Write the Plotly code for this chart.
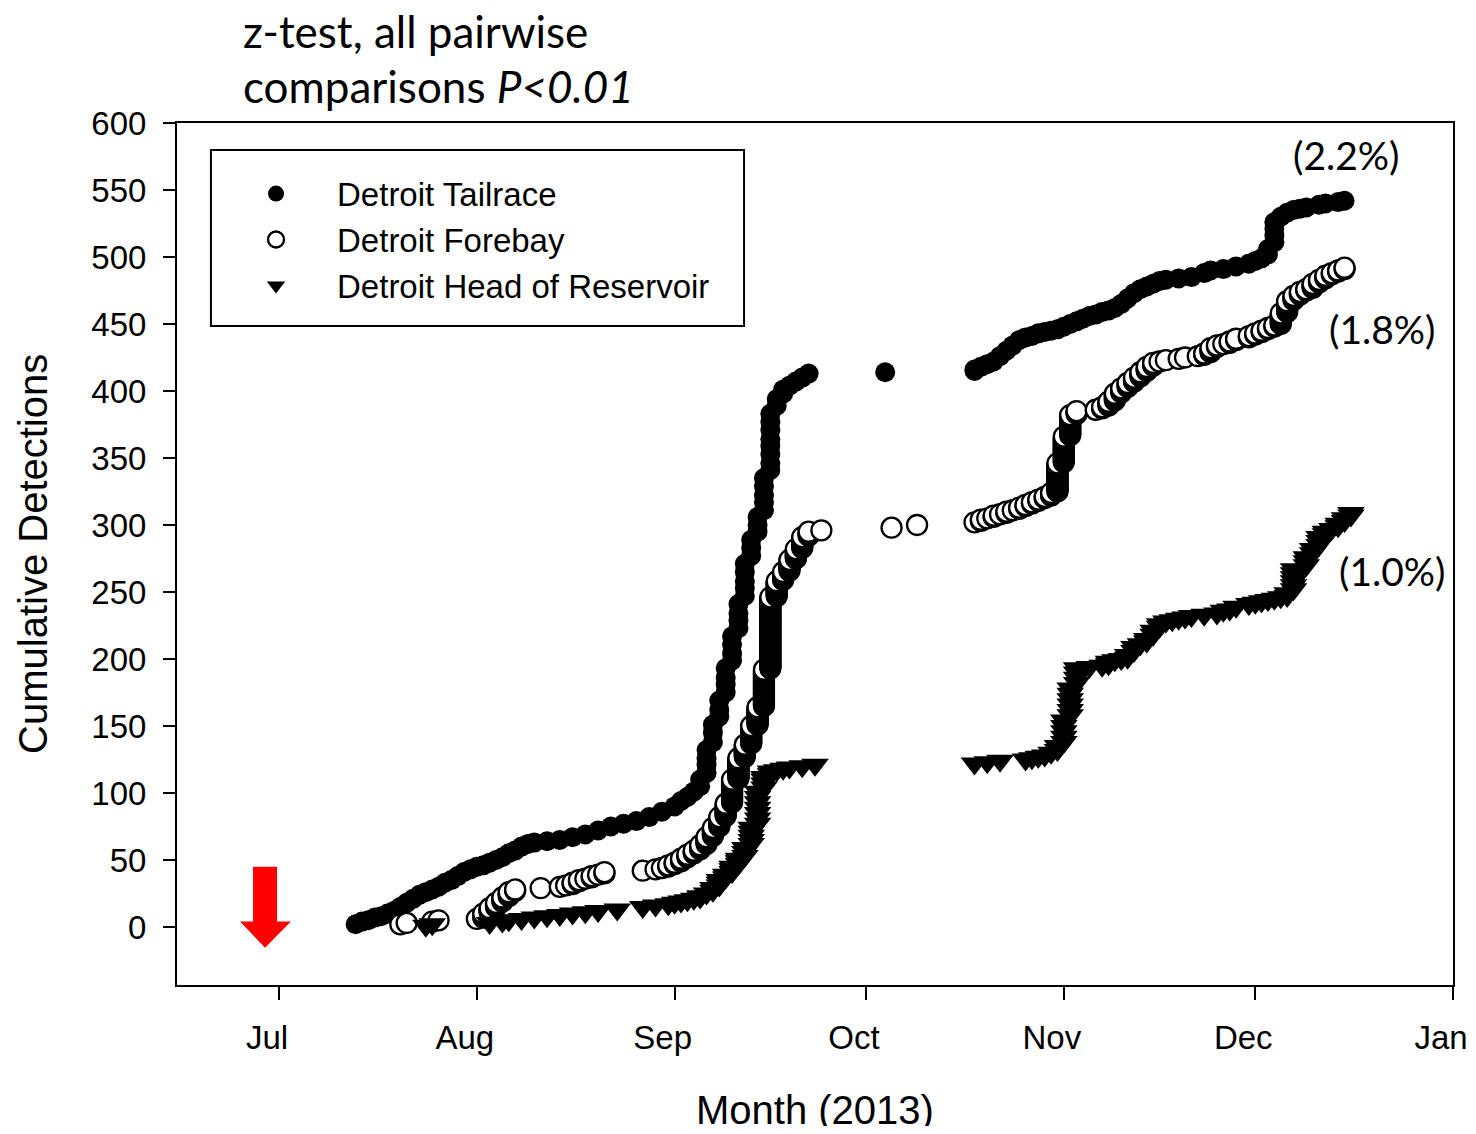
import plotly.graph_objects as go

# ---------------- data ----------------
series_names = ["Detroit Tailrace", "Detroit Forebay", "Detroit Head of Reservoir"]

tail_dates = ["2013-07-13", "2013-07-14", "2013-07-15", "2013-07-16", "2013-07-17", "2013-07-18", "2013-07-19",
              "2013-07-20", "2013-07-21", "2013-07-22", "2013-07-23", "2013-07-24", "2013-07-25", "2013-07-26",
              "2013-07-27", "2013-07-28", "2013-07-29", "2013-07-30", "2013-07-31", "2013-08-01", "2013-08-02",
              "2013-08-03", "2013-08-04", "2013-08-05", "2013-08-06", "2013-08-07", "2013-08-08", "2013-08-09",
              "2013-08-10", "2013-08-12", "2013-08-14", "2013-08-16", "2013-08-18", "2013-08-20", "2013-08-22",
              "2013-08-24", "2013-08-26", "2013-08-28", "2013-08-30", "2013-09-01", "2013-09-02", "2013-09-03",
              "2013-09-04", "2013-09-05", "2013-09-06", "2013-09-07", "2013-09-08", "2013-09-09", "2013-09-10",
              "2013-09-11", "2013-09-12", "2013-09-13", "2013-09-14", "2013-09-15", "2013-09-16", "2013-09-17",
              "2013-09-18", "2013-09-19", "2013-09-20", "2013-09-21", "2013-09-22", "2013-10-04", "2013-10-18",
              "2013-10-19", "2013-10-20", "2013-10-21", "2013-10-22", "2013-10-23", "2013-10-24", "2013-10-25",
              "2013-10-26", "2013-10-27", "2013-10-28", "2013-10-29", "2013-10-30", "2013-10-31", "2013-11-01",
              "2013-11-02", "2013-11-03", "2013-11-04", "2013-11-05", "2013-11-06", "2013-11-07", "2013-11-08",
              "2013-11-09", "2013-11-10", "2013-11-11", "2013-11-12", "2013-11-13", "2013-11-14", "2013-11-15",
              "2013-11-16", "2013-11-17", "2013-11-19", "2013-11-21", "2013-11-23", "2013-11-24", "2013-11-26",
              "2013-11-28", "2013-11-30", "2013-12-01", "2013-12-02", "2013-12-03", "2013-12-04", "2013-12-05",
              "2013-12-06", "2013-12-07", "2013-12-08", "2013-12-09", "2013-12-11", "2013-12-12", "2013-12-14",
              "2013-12-15"]
tail_cum = [[2], [4], [5], [7], [8], [10], [12],
            [15], [18], [21], [24], [26], [28], [30],
            [33], [35], [38], [41], [43], [45], [46],
            [48], [50], [52], [55], [57], [60], [62],
            [63], [64], [65], [67], [69], [72], [75],
            [77], [79], [82], [86], [90], [94], [97],
            [101], [105, 110], [115, 121, 126, 132], [138, 145, 151], [157, 162, 169], [175, 181, 186, 193],
            [199, 204, 211, 217], [223, 229, 234, 241], [247, 253, 258, 265, 271], [277, 283, 289],
            [295, 300, 306], [311, 317, 322, 329, 335], [341, 346, 353, 359, 364, 371, 377, 383], [389, 394],
            [398, 401], [404], [407], [410], [413], [414], [415, 416],
            [418], [420], [422], [426], [430], [434], [438],
            [440], [441], [443], [444], [445], [446], [448],
            [450], [452], [454], [456], [457], [459], [460],
            [462], [465], [469], [473], [476], [478], [480],
            [482], [483], [484], [485], [488], [490], [491],
            [493], [495], [497], [499], [502, 506], [511, 516, 521, 526], [530],
            [533], [535], [536], [537], [539], [540], [541],
            [542]]

fore_dates = ["2013-07-20", "2013-07-21", "2013-07-25", "2013-07-26", "2013-08-01", "2013-08-02", "2013-08-03",
              "2013-08-04", "2013-08-05", "2013-08-06", "2013-08-07", "2013-08-11", "2013-08-14", "2013-08-15",
              "2013-08-16", "2013-08-17", "2013-08-18", "2013-08-19", "2013-08-20", "2013-08-21", "2013-08-27",
              "2013-08-29", "2013-08-30", "2013-08-31", "2013-09-01", "2013-09-02", "2013-09-03", "2013-09-04",
              "2013-09-05", "2013-09-06", "2013-09-07", "2013-09-08", "2013-09-09", "2013-09-10", "2013-09-11",
              "2013-09-12", "2013-09-13", "2013-09-14", "2013-09-15", "2013-09-16", "2013-09-17", "2013-09-18",
              "2013-09-19", "2013-09-20", "2013-09-21", "2013-09-22", "2013-09-24", "2013-10-05", "2013-10-09",
              "2013-10-18", "2013-10-19", "2013-10-20", "2013-10-21", "2013-10-22", "2013-10-23", "2013-10-24",
              "2013-10-25", "2013-10-26", "2013-10-27", "2013-10-28", "2013-10-29", "2013-10-30", "2013-10-31",
              "2013-11-01", "2013-11-02", "2013-11-03", "2013-11-06", "2013-11-07", "2013-11-08", "2013-11-09",
              "2013-11-10", "2013-11-11", "2013-11-12", "2013-11-13", "2013-11-14", "2013-11-15", "2013-11-16",
              "2013-11-17", "2013-11-19", "2013-11-20", "2013-11-22", "2013-11-23", "2013-11-24", "2013-11-25",
              "2013-11-26", "2013-11-27", "2013-11-28", "2013-11-30", "2013-12-01", "2013-12-02", "2013-12-03",
              "2013-12-04", "2013-12-05", "2013-12-06", "2013-12-07", "2013-12-08", "2013-12-09", "2013-12-10",
              "2013-12-11", "2013-12-12", "2013-12-13", "2013-12-14", "2013-12-15"]
fore_cum = [[2], [3], [4], [5], [6], [7, 8, 9, 10], [11, 12, 13, 14],
            [15, 16, 17, 18], [19, 20, 21, 22], [23, 24, 25, 26], [27, 28], [29], [30], [31],
            [32, 33], [34, 35], [36], [37, 38], [39], [40, 41], [42],
            [43], [44], [45, 46], [47, 48], [49, 50, 51], [52, 53, 54], [55, 56, 57],
            [58, 59, 60, 61], [62, 63, 64, 65, 66, 67], [68, 69, 70, 71, 72, 73, 74],
            [75, 76, 77, 78, 79, 80, 81, 82],
            [83, 84, 85, 86, 87, 88, 89, 90, 91, 92],
            [93, 94, 95, 96, 97, 98, 99, 100, 101, 102, 103, 104, 105, 106, 107, 108, 109, 110],
            [111, 112, 113, 114, 115, 116, 117, 118, 119, 120, 121, 122, 123, 124, 125, 126],
            [127, 128, 129, 130, 131, 132, 133, 134, 135, 136],
            [137, 138, 139, 140, 141, 142, 143, 144, 145, 146, 147, 148, 149, 150],
            [151, 152, 153, 154, 155, 156, 157, 158, 159, 160, 161, 162, 163, 164],
            [165, 166, 167, 168, 169, 170, 171, 172, 173, 174, 175, 176, 177, 178, 179, 180, 181, 182, 183, 184,
             185, 186, 187, 188, 189, 190, 191, 192],
            [193, 194, 195, 196, 197, 198, 199, 200, 201, 202, 203, 204, 205, 206, 207, 208, 209, 210, 211, 212,
             213, 214, 215, 216, 217, 218, 219, 220, 221, 222, 223, 224, 225, 226, 227, 228, 229, 230, 231, 232,
             233, 234, 235, 236, 237, 238, 239, 240, 241, 242, 243, 244, 245, 246],
            [247, 248, 249, 250, 251, 252, 253, 254, 255, 256, 257, 258],
            [259, 260, 261, 262, 263, 264, 265],
            [266, 267, 268, 269, 270, 271, 272, 273, 274],
            [275, 276, 277, 278, 279, 280, 281, 282],
            [283, 284, 285, 286, 287, 288, 289, 290, 291],
            [292, 293, 294, 295], [296], [298], [300],
            [302], [303, 304], [305], [306, 307], [308], [309, 310], [311],
            [312, 313], [314, 315], [316, 317], [318, 319], [320, 321], [322, 323, 324],
            [325, 326, 327, 328, 329, 330, 331, 332, 333, 334, 335, 336, 337, 338, 339, 340, 341, 342, 343, 344,
             345, 346],
            [347, 348, 349, 350, 351, 352, 353, 354, 355, 356, 357, 358, 359, 360, 361, 362, 363, 364, 365, 366],
            [367, 368, 369, 370, 371, 372, 373, 374, 375, 376, 377, 378, 379, 380, 381, 382],
            [383, 384, 385],
            [386], [387, 388], [389, 390, 391, 392], [393, 394, 395, 396, 397, 398],
            [399, 400, 401, 402], [403, 404, 405, 406], [407, 408, 409, 410], [411, 412, 413, 414],
            [415, 416, 417, 418], [419, 420, 421], [422],
            [423], [424], [425], [426], [427, 428], [429, 430, 431, 432], [433, 434],
            [435], [436, 437], [438, 439], [440, 441], [442, 443], [444, 445], [446, 447],
            [448, 449], [450, 451, 452, 453, 454, 455, 456, 457, 458],
            [459, 460, 461, 462, 463, 464, 465, 466, 467], [468, 469, 470, 471], [472, 473, 474], [475, 476],
            [477, 478, 479, 480],
            [481, 482, 483], [484, 485, 486], [487, 488], [489, 490], [491, 492]]

head_dates = ["2013-07-24", "2013-07-25", "2013-08-03", "2013-08-05", "2013-08-06", "2013-08-08", "2013-08-10",
              "2013-08-12", "2013-08-14", "2013-08-16", "2013-08-18", "2013-08-20", "2013-08-23", "2013-08-27",
              "2013-08-29", "2013-08-31", "2013-09-01", "2013-09-02", "2013-09-03", "2013-09-04", "2013-09-05",
              "2013-09-06", "2013-09-07", "2013-09-08", "2013-09-09", "2013-09-10", "2013-09-11", "2013-09-12",
              "2013-09-13", "2013-09-14", "2013-09-15", "2013-09-16", "2013-09-17", "2013-09-18", "2013-09-19",
              "2013-09-21", "2013-09-23", "2013-10-18", "2013-10-20", "2013-10-22", "2013-10-26", "2013-10-27",
              "2013-10-28", "2013-10-29", "2013-10-30", "2013-10-31", "2013-11-01", "2013-11-02", "2013-11-03",
              "2013-11-05", "2013-11-07", "2013-11-08", "2013-11-09", "2013-11-10", "2013-11-11", "2013-11-12",
              "2013-11-13", "2013-11-14", "2013-11-15", "2013-11-16", "2013-11-17", "2013-11-18", "2013-11-19",
              "2013-11-20", "2013-11-21", "2013-11-23", "2013-11-25", "2013-11-26", "2013-11-27", "2013-11-28",
              "2013-11-30", "2013-12-01", "2013-12-02", "2013-12-03", "2013-12-04", "2013-12-05", "2013-12-06",
              "2013-12-07", "2013-12-09", "2013-12-10", "2013-12-11", "2013-12-12", "2013-12-13", "2013-12-14",
              "2013-12-15", "2013-12-16"]
head_cum = [[1], [2], [3], [4], [5], [6], [7],
            [8], [9], [10], [11], [12], [13], [15],
            [16], [17], [18], [19], [20], [21], [22, 23],
            [25], [27, 29], [31, 33, 35], [37, 39], [41, 43, 45], [47, 49, 51], [53, 56, 59],
            [62, 65, 68, 71, 74], [77, 81, 85, 89, 93, 97, 101], [104, 107, 110, 112], [114, 116], [117], [118], [119],
            [120], [121], [122], [123], [124], [125], [126],
            [127], [128], [130], [132, 135], [138, 142, 146, 150, 154], [158, 162, 166, 170, 174, 178],
            [182, 186, 190, 193],
            [194], [195], [196, 198], [199], [200], [201, 203], [206, 209],
            [211], [213, 215], [218, 221], [224, 226], [228], [229], [230],
            [231], [232], [233], [234], [236], [237], [239],
            [241], [242], [243], [244], [245], [246], [247, 249],
            [252, 255, 258, 261, 264, 267], [270, 273, 276], [279, 282], [285, 288, 291], [293, 295], [297],
            [299, 301], [303, 305], [307, 309]]

pct_labels = ["(2.2%)", "(1.8%)", "(1.0%)"]
pct_y = [576, 446, 266]

month_ticks = ["2013-07-01", "2013-08-01", "2013-09-01", "2013-10-01", "2013-11-01", "2013-12-01", "2014-01-01"]
month_labels = ["Jul", "Aug", "Sep", "Oct", "Nov", "Dec", "Jan"]
y_ticks = [0, 50, 100, 150, 200, 250, 300, 350, 400, 450, 500, 550, 600]


def flatten(dates, cum):
    xs = [d for d, vals in zip(dates, cum) for _ in vals]
    ys = [v for vals in cum for v in vals]
    return xs, ys


AX_FONT = "Liberation Sans, Arial, sans-serif"
CAL_FONT = "Lato, Carlito, Calibri, sans-serif"

fig = go.Figure()

tx, ty = flatten(tail_dates, tail_cum)
fx, fy = flatten(fore_dates, fore_cum)
hx, hy = flatten(head_dates, head_cum)

fig.add_trace(go.Scatter(x=tx, y=ty, mode="markers", name=series_names[0],
                         marker=dict(symbol="circle", size=20, color="black", line=dict(width=0))))
fig.add_trace(go.Scatter(x=fx, y=fy, mode="markers", name=series_names[1],
                         marker=dict(symbol="circle", size=20, color="white", line=dict(width=2.3, color="black"))))
fig.add_trace(go.Scatter(x=hx, y=hy, mode="markers", name=series_names[2],
                         marker=dict(symbol="triangle-down", size=24, color="black", line=dict(width=0))))

# red arrow (paper x, data y)
ax0, ax1, hx0, hx1, tipx = 0.0596, 0.0784, 0.0494, 0.0893, 0.069
fig.add_shape(type="path", xref="paper", yref="y",
              path=f"M {ax0},45 L {ax1},45 L {ax1},4 L {hx1},4 L {tipx},-15.5 L {hx0},4 L {ax0},4 Z",
              fillcolor="#ff0000", line=dict(width=0), layer="above")

# legend box
fig.add_shape(type="rect", xref="paper", yref="paper", x0=0.0266, x1=0.4444, y0=0.7645, y1=0.9687,
              line=dict(color="black", width=2), fillcolor="rgba(0,0,0,0)")

# title lines
fig.add_annotation(text="z-test, all pairwise", xref="paper", yref="paper", x=0.0502, y=1.1065,
                   xanchor="left", yanchor="middle", showarrow=False,
                   font=dict(family=CAL_FONT, size=44, color="black"))
fig.add_annotation(text="comparisons <i>P&lt;0.01</i>", xref="paper", yref="paper", x=0.0502, y=1.0435,
                   xanchor="left", yanchor="middle", showarrow=False,
                   font=dict(family=CAL_FONT, size=44, color="black"))

# percentage labels
for lab, yy, xx in zip(pct_labels, pct_y, [0.9165, 0.9451, 0.9522]):
    fig.add_annotation(text=lab, xref="paper", yref="y", x=xx, y=yy, xanchor="center", yanchor="middle",
                       showarrow=False, font=dict(family=CAL_FONT, size=39, color="black"))

# axis titles
fig.add_annotation(text="Cumulative Detections", xref="paper", yref="paper", x=-0.1129, y=0.5,
                   textangle=-90, xanchor="center", yanchor="middle", showarrow=False,
                   font=dict(family=AX_FONT, size=40, color="black"))
fig.add_annotation(text="Month (2013)", xref="paper", yref="paper", x=0.5, y=-0.1450,
                   xanchor="center", yanchor="middle", showarrow=False,
                   font=dict(family=AX_FONT, size=40, color="black"))

# The page body has an 8px margin, so the figure is offset by 8px; margins compensate.
fig.update_layout(
    width=1460, height=1118,
    margin=dict(l=169, r=15, t=115, b=141),
    paper_bgcolor="white", plot_bgcolor="white",
    showlegend=True,
    legend=dict(x=0.0298, y=0.9505, xanchor="left", yanchor="top", bgcolor="rgba(0,0,0,0)",
                borderwidth=0, itemwidth=112, font=dict(family=AX_FONT, size=33, color="black"),
                traceorder="normal"),
    xaxis=dict(type="date", range=["2013-06-15", "2014-01-01"], tickvals=month_ticks, ticktext=month_labels,
               showgrid=False, zeroline=False, showline=True, linecolor="black", linewidth=2, mirror=True,
               ticks="outside", ticklen=13, tickwidth=2, tickcolor="black", automargin=False,
               tickfont=dict(family=AX_FONT, size=33, color="black"),
               ticklabelstandoff=9, ticklabelshift=-12),
    yaxis=dict(range=[-43.3, 600], tickvals=y_ticks, showgrid=False, zeroline=False, showline=True,
               linecolor="black", linewidth=2, mirror=True, ticks="outside", ticklen=12, tickwidth=2,
               tickcolor="black", tickfont=dict(family=AX_FONT, size=33, color="black"), automargin=False,
               ticklabelstandoff=10),
)

fig.write_html("out.html")
